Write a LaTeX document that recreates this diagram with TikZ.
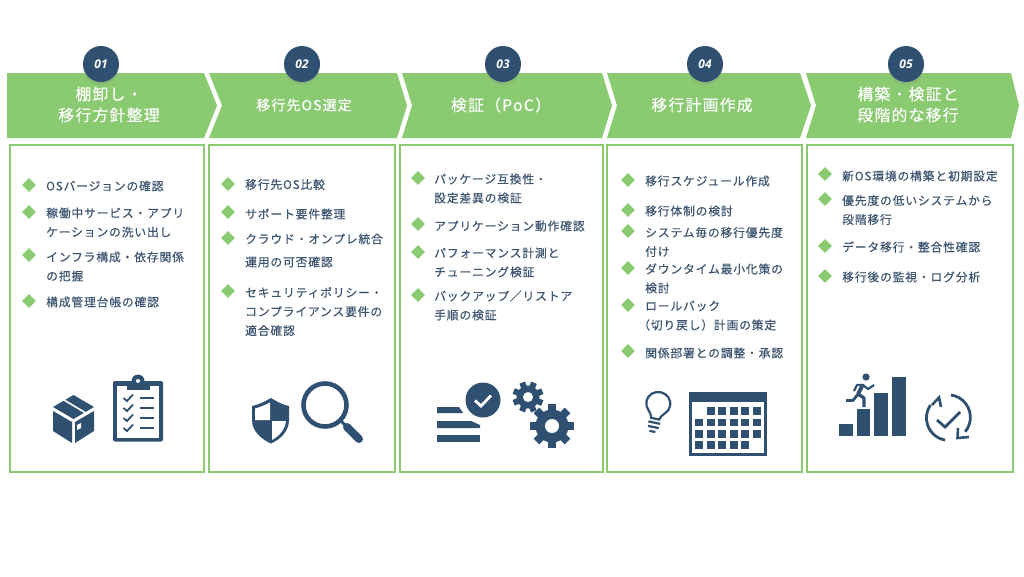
\documentclass[tikz,border=0pt]{standalone}
\usepackage{fontspec}
\setmainfont{Noto Sans CJK JP}
\newfontfamily\bodyfont{Noto Sans CJK JP}[LetterSpace=7,FakeBold=0.35]
\newfontfamily\headfont{Noto Sans CJK JP}[LetterSpace=8,FakeBold=0.25]
\newfontfamily\numfont{Open Sans}
\usetikzlibrary{shapes.geometric,shadows}
\definecolor{leaf}{HTML}{8ACB72}
\definecolor{navy}{HTML}{2F5071}
\definecolor{inktext}{HTML}{3D5570}
\tikzset{
  band/.style={fill=leaf},
  panel/.style={draw=leaf,line width=2.4pt,fill=white},
  badge/.style={circle,fill=navy,minimum size=36pt,inner sep=0pt,text=white,
    font=\numfont\fontsize{12}{12}\selectfont\bfseries\itshape,
    drop shadow={opacity=.22,shadow xshift=0pt,shadow yshift=-3pt}},
  headline/.style={text=white,align=center,inner sep=0pt,font=\headfont\fontsize{15.8}{21}\selectfont},
  gem/.style={diamond,fill=leaf,minimum size=14pt,inner sep=0pt},
  item/.style={anchor=west,align=left,inner sep=0pt,text=inktext,font=\bodyfont\fontsize{11.8}{19}\selectfont},
  ink/.style={fill=navy,draw=none},
  pen/.style={draw=navy,line width=2.6pt},
}
\begin{document}
\begin{tikzpicture}[x=1pt,y=-1pt]
\useasboundingbox (0,0) rectangle (1024,576);
% top chevrons
\fill[band] (7,73)--(204,73)--(217,105.5)--(204,138)--(7,138)--cycle;
\fill[band] (209,73)--(397,73)--(407,105.5)--(397,138)--(209,138)--(222,105.5)--cycle;
\fill[band] (402,73)--(602,73)--(612,105.5)--(602,138)--(402,138)--(412,105.5)--cycle;
\fill[band] (607,73)--(800,73)--(811,105.5)--(800,138)--(607,138)--(617,105.5)--cycle;
\fill[band] (806,73)--(1011,73)--(1019,105.5)--(1011,138)--(806,138)--(816,105.5)--cycle;
% number badges
\foreach \n/\x in {01/101,02/302,03/503,04/705,05/906}
  \node[badge] (badge\n) at (\x,64) {\n};
% titles
\node[headline] (head1) at (109,104.5) {棚卸し・\\移行方針整理};
\node[headline,font=\headfont\fontsize{14}{21}\selectfont] (head2) at (304,105) {移行先OS選定};
\node[headline] (head3) at (501,105) {検証（PoC）};
\node[headline] (head4) at (702,105) {移行計画作成};
\node[headline] (head5) at (908,104.5) {構築・検証と\\段階的な移行};
% panels
\draw[panel] (10,145) rectangle (204,472);
\draw[panel] (209,145) rectangle (395,472);
\draw[panel] (400,145) rectangle (603,472);
\draw[panel] (607,145) rectangle (802,472);
\draw[panel] (807,145) rectangle (1013,472);
% panel 1
\foreach \i/\d/\t/\s in {1/185/186/{OSバージョンの確認},
    2/212/222.5/{稼働中サービス・アプリ\\ケーションの洗い出し},
    3/255/266.5/{インフラ構成・依存関係\\の把握},
    4/301/302/{構成管理台帳の確認}}{
  \node[gem] (gemA\i) at (29,\d) {};
  \node[item] (itemA\i) at (46,\t) {\s};
}
% panel 2
\foreach \i/\d/\t/\s in {1/184/184.5/{移行先OS比較},
    2/212/214/{サポート要件整理},
    3/238/250.5/{クラウド・オンプレ統合\\[4pt]運用の可否確認},
    4/291/311.5/{セキュリティポリシー・\\コンプライアンス要件の\\適合確認}}{
  \node[gem] (gemB\i) at (228,\d) {};
  \node[item] (itemB\i) at (245,\t) {\s};
}
% panel 3
\foreach \i/\d/\t/\s in {1/178/188.5/{パッケージ互換性・\\設定差異の検証},
    2/224/226/{アプリケーション動作確認},
    3/252/262.5/{パフォーマンス計測と\\チューニング検証},
    4/295/305.5/{バックアップ／リストア\\手順の検証}}{
  \node[gem] (gemC\i) at (418,\d) {};
  \node[item] (itemC\i) at (434,\t) {\s};
}
% panel 4
\foreach \i/\d/\t/\s in {1/180/181/{移行スケジュール作成},
    2/210/211/{移行体制の検討},
    3/231/242/{システム毎の移行優先度\\付け},
    4/268/278.5/{ダウンタイム最小化策の\\検討},
    6/351/353/{関係部署との調整・承認}}{
  \node[gem] (gemD\i) at (628,\d) {};
  \node[item] (itemD\i) at (645,\t) {\s};
}
\node[gem] (gemD5) at (628,305) {};
\node[item] (itemD5) at (645,306) {ロールバック};
\node[item] (itemD5b) at (638,325) {（切り戻し）計画の策定};
% panel 5
\foreach \i/\d/\t/\s in {1/174/176/{新OS環境の構築と初期設定},
    2/199/210/{優先度の低いシステムから\\段階移行},
    3/246/247/{データ移行・整合性確認},
    4/276/277/{移行後の監視・ログ分析}}{
  \node[gem] (gemE\i) at (825,\d) {};
  \node[item] (itemE\i) at (842,\t) {\s};
}
% box
\fill[ink] (73.5,395)--(94,407)--(73.5,419)--(53,407)--cycle;
\fill[ink] (53,411)--(72,422)--(72,443)--(53,431)--cycle;
\fill[ink] (75,422)--(94,411)--(94,431)--(75,443)--cycle;
\draw[white,line width=1.6pt] (64,400)--(85,412.5);
\fill[white] (77,425)--(81,423)--(81,428)--(77,430)--cycle;
% clipboard
\fill[ink,rounded corners=2pt] (113,381) rectangle (163,441.5);
\fill[white] (117,386) rectangle (159,437.5);
\fill[ink] (127,382) rectangle (150,390);
\fill[ink] (138,381) circle (6.5);
\fill[white] (138,381) circle (2);
\foreach \y in {398,408,418,428}{
  \draw[navy,line width=1.8pt] (123.5,\y)--(127,\y+3)--(133,\y-3.5);
  \draw[navy,line width=2.6pt] (140,\y)--(154,\y);
}
% shield
\fill[ink] (271,398) .. controls (262,403) and (257,405) .. (252,406)
  -- (252,420) .. controls (252,431) and (261,439) .. (271,443.5)
  .. controls (281,439) and (289,431) .. (289,420) -- (289,406)
  .. controls (284,405) and (279,403) .. (271,398) -- cycle;
\fill[white] (270,402.5) .. controls (264,405.5) and (259,407.5) .. (255,408.5) -- (255,420) -- (270,420) -- cycle;
\fill[white] (272,421) -- (286,421) .. controls (285,430) and (279,436) .. (272,440) -- cycle;
% magnifier
\draw[navy,line width=4.6pt] (325,405) circle (21.5);
\draw[navy,line width=3pt] (340,420)--(346,426);
\draw[navy,line width=8pt,line cap=round] (347,427)--(359,439);
% check badge and lines
\fill[ink] (483,400) circle (17.5);
\draw[white,line width=2.8pt] (475,400.5)--(481,406)--(491,395.5);
\fill[ink] (437,407)--(459,407)--(463,413)--(437,413)--cycle;
\fill[ink] (437,421)--(471,421)--(480,425)--(480,428)--(437,428)--cycle;
\fill[ink] (437,435) rectangle (480,442);
% gears
\fill[ink] (528,397) circle (11.5);
\foreach \a in {0,45,...,315}
  \fill[ink,shift={(528,397)},rotate=\a+22] (-3,-15.5) rectangle (3,-9);
\fill[white] (528,397) circle (5);
\fill[ink] (552,426) circle (16.5);
\foreach \a in {0,45,...,315}
  \fill[ink,shift={(552,426)},rotate=\a] (-4,-22) rectangle (4,-14);
\fill[white] (552,426) circle (7);
% bulb
\begin{scope}[shift={(658,405)},rotate=-12]
  \draw[navy,line width=2.2pt] (-4,14) .. controls (-5,8) and (-12,6) .. (-12,-1)
    .. controls (-12,-17) and (12,-17) .. (12,-1)
    .. controls (12,6) and (5,8) .. (4,14) -- cycle;
  \draw[navy,line width=2.2pt] (-6,18)--(6,18);
  \draw[navy,line width=2.2pt] (-5.5,22.5)--(5.5,22.5);
  \draw[navy,line width=2.2pt] (-3,27)--(3,27);
\end{scope}
% calendar
\draw[navy,line width=3pt] (690.5,393.5) rectangle (765.5,454.5);
\fill[ink] (689,392) rectangle (767,402);
\foreach \x in {710.5,722,733.7,745,757}
  \foreach \y in {411,422.5,433.7}
    \fill[ink] (\x-4,\y-3.8) rectangle (\x+4,\y+3.8);
\foreach \x in {699}
  \foreach \y in {422.5,433.7,445}
    \fill[ink] (\x-4,\y-3.8) rectangle (\x+4,\y+3.8);
\foreach \x in {710.5,722,733.7,745}
  \fill[ink] (\x-4,445-3.8) rectangle (\x+4,445+3.8);
% steps and runner
\fill[ink] (839,424) rectangle (853,436);
\fill[ink] (857,409) rectangle (870,436);
\fill[ink] (874,393) rectangle (888,436);
\fill[ink] (892,377) rectangle (906,436);
\fill[ink] (866,377) circle (3.6);
\draw[navy,line width=3.8pt,line join=round] (863,384.5)--(858,394);
\draw[navy,line width=2.8pt,line join=round] (858,394)--(853,400.5)--(846,400.5);
\draw[navy,line width=3.2pt,line join=round] (858,394)--(864,398)--(864,407);
\draw[navy,line width=2.2pt,line join=round] (854,391)--(857,385)--(863,385)--(868,389)--(874,385);
% cycle check
\draw[navy,line width=2.8pt] (945,440) arc (100:215:22.5);
\draw[navy,line width=2.8pt] (951,395) arc (-82:40:22.5);
\draw[navy,line width=2.6pt] (932,405)--(939,397.5)--(941,407);
\draw[navy,line width=2.6pt] (958,428)--(957.5,438)--(969,437);
\draw[navy,line width=2.8pt] (937,420)--(945,427)--(960,412);
\end{tikzpicture}
\end{document}
